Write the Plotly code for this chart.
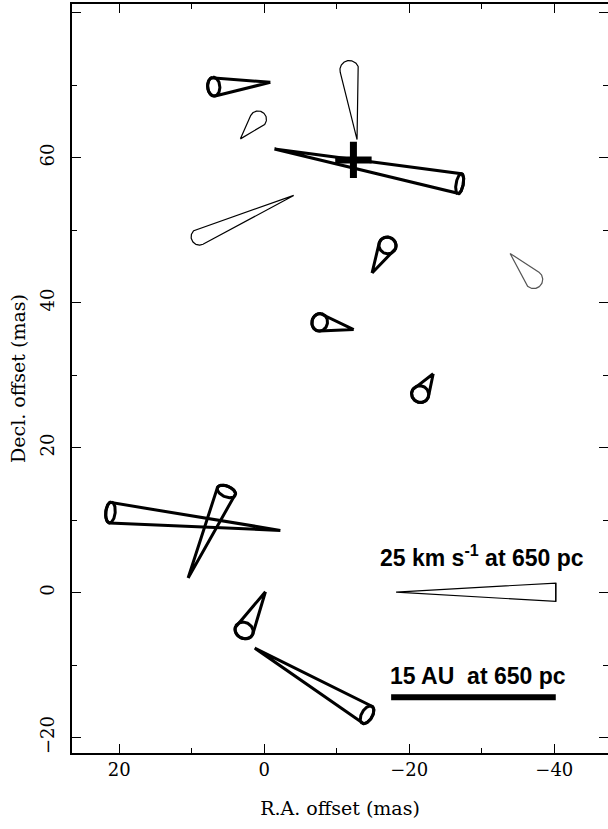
import numpy as np
import plotly.graph_objects as go

# ---- data (mas) ----
names   = ["A", "B", "C", "D", "E", "F", "G", "H", "I", "J", "K", "L", "M"]
apex_x  = [-0.85, 3.28, -12.8, -1.41, -4.07, -14.87, -33.9, -12.34, -23.3, -2.23, 10.49, -0.17, 1.31]
apex_y  = [70.4, 62.6, 62.5, 61.2, 54.8, 44.1, 46.8, 36.3, 30.2, 8.6, 2.03, 0.14, -7.63]
base_x  = [6.96, 0.84, -11.74, -26.95, 8.93, -17.0, -37.15, -7.65, -21.5, 21.2, 5.21, 2.77, -14.18]
base_y  = [69.8, 65.3, 72.1, 56.4, 49.1, 47.9, 43.2, 37.3, 27.4, 11.08, 13.97, -5.2, -16.83]
radius  = [1.3, 1.15, 1.3, 1.42, 1.15, 1.2, 1.25, 1.22, 1.2, 1.45, 1.35, 1.3, 1.35]
flatten = [0.65, 1.0, 1.0, 0.35, 1.0, 0.95, 1.0, 0.88, 0.95, 0.45, 0.55, 0.85, 0.55]
bold    = [True, False, False, True, False, True, False, True, True, True, True, True, True]
colors  = ["black", "black", "black", "black", "black", "black", "#555555", "black", "black",
           "black", "black", "black", "black"]

# reference position (cross)
cross_x = [-12.3]
cross_y = [59.7]

# scale velocity cone (25 km/s)
scale_apex = (-18.18, 0.1)
scale_base = (-40.2, 0.07)
scale_r = 1.27

# scale bar (15 AU at 650 pc)
bar_x = [-17.5, -40.2]
bar_y = [-14.4, -14.4]

x_ticks = [20, 0, -20, -40]
y_ticks = [-20, 0, 20, 40, 60, 80]


def cone_paths(ax, ay, bx, by, r, f):
    A = np.array([ax, ay]); B = np.array([bx, by])
    d = B - A
    L = np.hypot(*d)
    u = d / L
    n = np.array([-u[1], u[0]])
    a, b = r, r * f
    yt = -b * b / L
    st = yt / b if b > 0 else 0.0
    t0 = np.arcsin(np.clip(st, -1, 1))
    arc_t = np.linspace(t0, np.pi - t0, 80)
    def pt(t):
        return B + a * np.cos(t)[:, None] * n + b * np.sin(t)[:, None] * u
    arc = pt(arc_t)
    outline = np.vstack([A, arc, A])
    full_t = np.linspace(0, 2 * np.pi, 120)
    ell = pt(full_t)
    return outline, ell


fig = go.Figure()

for i in range(len(names)):
    outline, ell = cone_paths(apex_x[i], apex_y[i], base_x[i], base_y[i], radius[i], flatten[i])
    w = 3 if bold[i] else 1.2
    fig.add_trace(go.Scatter(x=outline[:, 0], y=outline[:, 1], mode="lines",
                             line=dict(color=colors[i], width=w), hoverinfo="skip"))
    if bold[i]:
        fig.add_trace(go.Scatter(x=ell[:, 0], y=ell[:, 1], mode="lines",
                                 line=dict(color=colors[i], width=w), hoverinfo="skip"))

# scale cone
outline, ell = cone_paths(scale_apex[0], scale_apex[1], scale_base[0], scale_base[1], scale_r, 0.0)
fig.add_trace(go.Scatter(x=outline[:, 0], y=outline[:, 1], mode="lines",
                         line=dict(color="black", width=1.2), hoverinfo="skip"))
fig.add_trace(go.Scatter(x=ell[:, 0], y=ell[:, 1], mode="lines",
                         line=dict(color="black", width=1.2), hoverinfo="skip"))

# cross
fig.add_trace(go.Scatter(x=cross_x, y=cross_y, mode="markers",
                         marker=dict(symbol="cross-thin", size=26,
                                     line=dict(color="black", width=7)),
                         hoverinfo="skip"))

# scale bar
fig.add_trace(go.Scatter(x=bar_x, y=bar_y, mode="lines",
                         line=dict(color="black", width=6), hoverinfo="skip"))

ann_font = dict(family="Liberation Sans", size=23, color="black")
fig.add_annotation(x=-30.0, y=5.1, text="<b>25 km s<sup>-1</sup> at 650 pc</b>",
                   showarrow=False, font=ann_font)
fig.add_annotation(x=-29.5, y=-11.5, text="<b>15 AU  at 650 pc</b>",
                   showarrow=False, font=ann_font)

tick_font = dict(family="DejaVu Serif", size=18, color="black")
title_font = dict(family="DejaVu Serif", size=19, color="black")
fig.update_xaxes(range=[26.5, -47.4], tickvals=x_ticks, ticktext=["20", "0", "\u221220", "\u221240"],
                 ticks="inside", ticklen=9, tickwidth=1.2, tickcolor="black",
                 showline=True, linecolor="black", linewidth=1.5, mirror="ticks",
                 showgrid=False, zeroline=False, tickfont=tick_font, automargin=False,
                 minor=dict(dtick=10, tick0=0, ticks="inside", ticklen=5, tickcolor="black", tickwidth=1.2),
                 title=dict(text="R.A. offset (mas)", font=title_font, standoff=22))
fig.update_yaxes(range=[-22.1, 81.2], tickvals=y_ticks, ticktext=["\u221220", "0", "20", "40", "60", "80"],
                 ticks="inside", ticklen=9, tickwidth=1.2, tickcolor="black",
                 showline=True, linecolor="black", linewidth=1.5, mirror="ticks",
                 showgrid=False, zeroline=False, tickfont=tick_font, tickangle=-90, automargin=False,
                 ticklabelstandoff=9,
                 minor=dict(dtick=10, tick0=0, ticks="inside", ticklen=5, tickcolor="black", tickwidth=1.2),
                 title=dict(text="Decl. offset (mas)", font=title_font, standoff=6))

fig.update_layout(width=608, height=829, showlegend=False,
                  plot_bgcolor="white", paper_bgcolor="white",
                  margin=dict(l=72, r=0, t=4, b=76))

fig.write_html("out.html", config={"displayModeBar": False},
               post_script="document.body.style.margin='0';document.body.style.overflow='hidden';")
